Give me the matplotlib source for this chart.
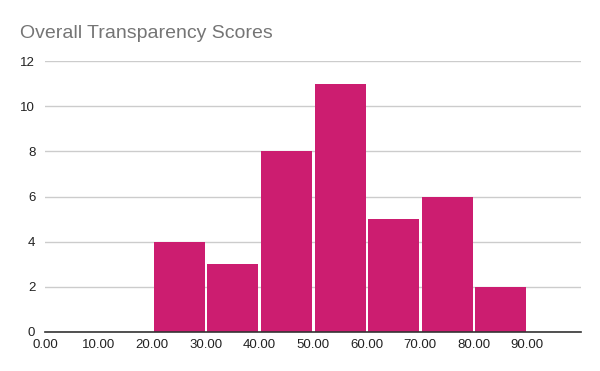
import matplotlib
matplotlib.use("Agg")
import matplotlib.pyplot as plt

bin_edges = [20, 30, 40, 50, 60, 70, 80, 90]
counts = [4, 3, 8, 11, 5, 6, 2]
x_ticks = [0, 10, 20, 30, 40, 50, 60, 70, 80, 90]
x_tick_labels = ["0.00", "10.00", "20.00", "30.00", "40.00", "50.00", "60.00", "70.00", "80.00", "90.00"]
y_ticks = [0, 2, 4, 6, 8, 10, 12]
title = "Overall Transparency Scores"

plt.rcParams['font.family'] = ['Liberation Sans', 'DejaVu Sans']
fig = plt.figure(figsize=(6, 3.71), dpi=100)
ax = fig.add_axes([45/600, 1-332/371, (581-45)/600, (332-61)/371])

lefts = bin_edges[:-1]
widths = [b - a for a, b in zip(bin_edges[:-1], bin_edges[1:])]
ax.bar([l + 0.3 for l in lefts], counts, width=[w - 0.5 for w in widths], align='edge',
       color='#cc1d70', zorder=3)

ax.set_xlim(0, 100)
ax.set_ylim(0, 12)
ax.set_xticks(x_ticks)
ax.set_xticklabels(x_tick_labels)
ax.set_yticks(y_ticks)
ax.yaxis.grid(True, color='#cccccc', linewidth=1)
ax.set_axisbelow(True)
for s in ['top', 'right', 'left']:
    ax.spines[s].set_visible(False)
ax.spines['bottom'].set_color('#333333')
ax.spines['bottom'].set_linewidth(1.2)
ax.spines['bottom'].set_zorder(4)
ax.tick_params(axis='both', length=0, labelsize=9.5, colors='#222222')
ax.tick_params(axis='x', pad=5)
ax.tick_params(axis='y', pad=7)

fig.text(20/600, 1-38/371, title, fontsize=14, color='#757575', ha='left', va='baseline')

fig.savefig('out.png', dpi=100)
